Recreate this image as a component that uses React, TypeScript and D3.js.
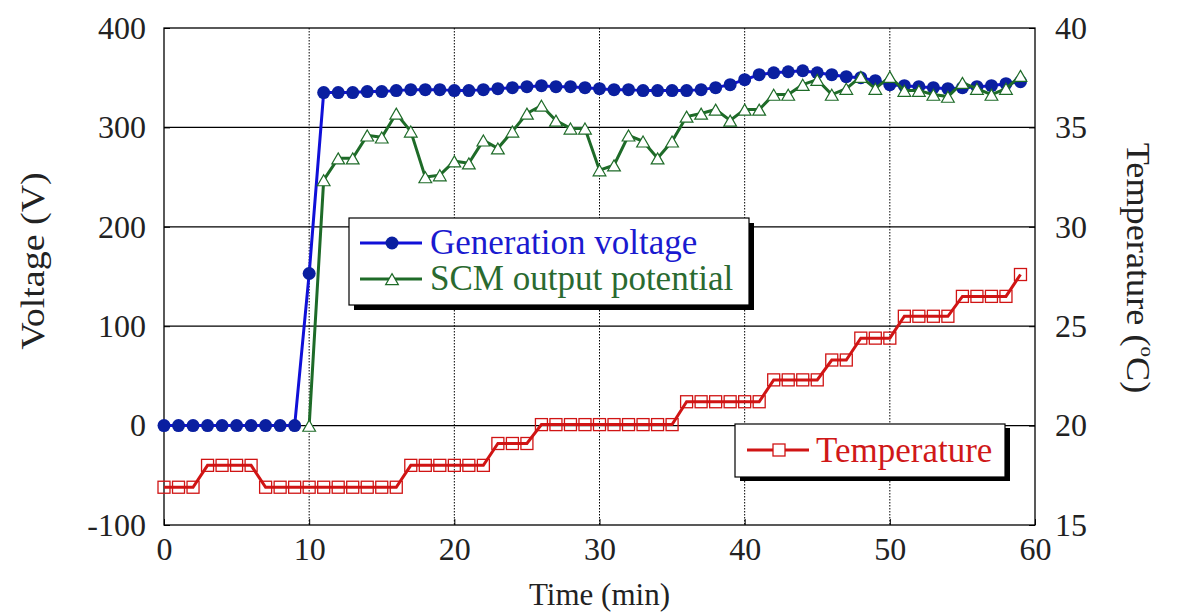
import React, { useEffect, useRef } from 'react';
import * as d3 from 'd3';

// ---- data ----
const minutes = d3.range(0, 60);

const generationVoltage = [
  0, 0, 0, 0, 0, 0, 0, 0, 0, 0,
  153, 335, 335, 335, 336, 336, 337, 338, 338, 338,
  337, 337, 338, 339, 340, 341, 342, 341, 341, 340,
  339, 338, 338, 337, 337, 337, 337, 338, 340, 343,
  348, 353, 355, 356, 357, 355, 353, 351, 350, 347,
  343, 342, 341, 340, 339, 340, 341, 342, 344, 346,
];

// SCM output starts at minute 10
const scmMinutes = d3.range(10, 60);
const scmOutput = [
  0, 247, 269, 269, 292, 290, 314, 296, 250, 252,
  266, 264, 287, 279, 296, 314, 322, 307, 299, 299,
  257, 262, 292, 286, 269, 286, 311, 314, 318, 307,
  318, 318, 333, 333, 343, 348, 333, 339, 351, 339,
  351, 337, 337, 333, 331, 345, 339, 333, 339, 352,
];

const temperature = [
  16.9, 16.9, 16.9, 18.0, 18.0, 18.0, 18.0, 16.9, 16.9, 16.9,
  16.9, 16.9, 16.9, 16.9, 16.9, 16.9, 16.9, 18.0, 18.0, 18.0,
  18.0, 18.0, 18.0, 19.1, 19.1, 19.1, 20.05, 20.05, 20.05, 20.05,
  20.05, 20.05, 20.05, 20.05, 20.05, 20.05, 21.2, 21.2, 21.2, 21.2,
  21.2, 21.2, 22.3, 22.3, 22.3, 22.3, 23.3, 23.3, 24.4, 24.4,
  24.4, 25.5, 25.5, 25.5, 25.5, 26.5, 26.5, 26.5, 26.5, 27.6,
];

const xTicks = [0, 10, 20, 30, 40, 50, 60];
const voltTicks = [-100, 0, 100, 200, 300, 400];
const tempTicks = [15, 20, 25, 30, 35, 40];

const BLUE = '#1010d8';
const BLUE_DOT = '#0a1fa0';
const GREEN = '#1e6b28';
const RED = '#d01414';
const FONT = '"Liberation Serif", "Times New Roman", serif';

const App = () => {
  const ref = useRef<SVGSVGElement>(null);

  useEffect(() => {
    const fullW = 1187;
    const fullH = 613;
    const left = 164, right = 1035, top = 28, bottom = 525;

    const svg = d3.select(ref.current);
    svg.selectAll('*').remove();
    svg.attr('width', fullW).attr('height', fullH).style('background', '#fff');

    const x = d3.scaleLinear().domain([0, 60]).range([left, right]);
    const y = d3.scaleLinear().domain([-100, 400]).range([bottom, top]);
    const yT = d3.scaleLinear().domain([15, 40]).range([bottom, top]);

    // horizontal grid lines
    svg.append('g')
      .selectAll('line')
      .data(voltTicks.slice(1, -1))
      .join('line')
      .attr('x1', left).attr('x2', right)
      .attr('y1', d => y(d)).attr('y2', d => y(d))
      .attr('stroke', '#000').attr('stroke-width', 1.2);

    // vertical dotted grid lines
    svg.append('g')
      .selectAll('line')
      .data(xTicks.slice(1, -1))
      .join('line')
      .attr('x1', d => x(d)).attr('x2', d => x(d))
      .attr('y1', top).attr('y2', bottom)
      .attr('stroke', '#000').attr('stroke-width', 1)
      .attr('stroke-dasharray', '1.5,1.5');

    // frame
    svg.append('rect')
      .attr('x', left).attr('y', top)
      .attr('width', right - left).attr('height', bottom - top)
      .attr('fill', 'none').attr('stroke', '#000').attr('stroke-width', 1.3);

    // axes
    const tickFont = (g: any) => {
      g.select('.domain').remove();
      g.selectAll('text')
        .attr('font-family', FONT)
        .attr('font-size', '32px')
        .attr('fill', '#222');
      g.selectAll('line').attr('stroke', '#000');
    };
    const fmt = (d: any) => String(d);

    svg.append('g')
      .attr('transform', `translate(0,${bottom})`)
      .call(d3.axisBottom(x).tickValues(xTicks).tickFormat(fmt).tickSize(-6).tickPadding(12))
      .call(tickFont);

    svg.append('g')
      .attr('transform', `translate(${left},0)`)
      .call(d3.axisLeft(y).tickValues(voltTicks).tickFormat(fmt).tickSize(-6).tickPadding(18))
      .call(tickFont);

    svg.append('g')
      .attr('transform', `translate(${right},0)`)
      .call(d3.axisRight(yT).tickValues(tempTicks).tickFormat(fmt).tickSize(-6).tickPadding(20))
      .call(tickFont);

    // axis titles
    svg.append('text')
      .attr('x', (left + right) / 2).attr('y', 605)
      .attr('text-anchor', 'middle')
      .attr('font-family', FONT).attr('font-size', '31px').attr('fill', '#222')
      .text('Time (min)');

    svg.append('text')
      .attr('transform', `translate(44,261) rotate(-90) scale(1.15,1)`)
      .attr('text-anchor', 'middle')
      .attr('font-family', FONT).attr('font-size', '33px').attr('fill', '#222')
      .text('Voltage (V)');

    const tTitle = svg.append('text')
      .attr('transform', `translate(1127,268) rotate(90) scale(1.1,1)`)
      .attr('text-anchor', 'middle')
      .attr('font-family', FONT).attr('font-size', '33px').attr('fill', '#222');
    tTitle.append('tspan').text('Temperature  (');
    tTitle.append('tspan').attr('dy', -14).attr('font-size', '19px').text('o');
    tTitle.append('tspan').attr('dy', 14).text('C)');

    // series
    const line = d3.line<[number, number]>().x(d => d[0]).y(d => d[1]);

    const tempPts: [number, number][] = minutes.map((m, i) => [x(m), yT(temperature[i])]);
    const scmPts: [number, number][] = scmMinutes.map((m, i) => [x(m), y(scmOutput[i])]);
    const genPts: [number, number][] = minutes.map((m, i) => [x(m), y(generationVoltage[i])]);

    // temperature
    svg.append('path').attr('d', line(tempPts))
      .attr('fill', 'none').attr('stroke', RED).attr('stroke-width', 3);
    svg.append('g').selectAll('rect').data(tempPts).join('rect')
      .attr('x', d => d[0] - 6).attr('y', d => d[1] - 6)
      .attr('width', 12).attr('height', 12)
      .attr('fill', 'none').attr('stroke', RED).attr('stroke-width', 1.3);

    // generation voltage
    svg.append('path').attr('d', line(genPts))
      .attr('fill', 'none').attr('stroke', BLUE).attr('stroke-width', 3);
    svg.append('g').selectAll('circle').data(genPts).join('circle')
      .attr('cx', d => d[0]).attr('cy', d => d[1]).attr('r', 6.5)
      .attr('fill', BLUE_DOT);

    // SCM output potential
    const tri = d3.symbol().type(d3.symbolTriangle).size(70);
    svg.append('path').attr('d', line(scmPts))
      .attr('fill', 'none').attr('stroke', GREEN).attr('stroke-width', 3);
    svg.append('g').selectAll('path').data(scmPts).join('path')
      .attr('d', tri())
      .attr('transform', d => `translate(${d[0]},${d[1] + 2})`)
      .attr('fill', '#fff').attr('stroke', GREEN).attr('stroke-width', 1.2);

    // legend 1
    const lg1 = svg.append('g');
    lg1.append('rect').attr('x', 354).attr('y', 223).attr('width', 400).attr('height', 87).attr('fill', '#000');
    lg1.append('rect').attr('x', 349).attr('y', 218).attr('width', 400).attr('height', 87)
      .attr('fill', '#fff').attr('stroke', '#000').attr('stroke-width', 1.2);
    lg1.append('line').attr('x1', 360).attr('x2', 422).attr('y1', 243).attr('y2', 243)
      .attr('stroke', BLUE).attr('stroke-width', 3);
    lg1.append('circle').attr('cx', 392).attr('cy', 243).attr('r', 6.5).attr('fill', BLUE_DOT);
    lg1.append('text').attr('x', 430).attr('y', 254)
      .attr('font-family', FONT).attr('font-size', '35px').attr('fill', '#1a1ad0')
      .text('Generation voltage');
    lg1.append('line').attr('x1', 360).attr('x2', 422).attr('y1', 279).attr('y2', 279)
      .attr('stroke', GREEN).attr('stroke-width', 3);
    lg1.append('path').attr('d', tri()).attr('transform', 'translate(392,281)')
      .attr('fill', '#fff').attr('stroke', GREEN).attr('stroke-width', 1.2);
    lg1.append('text').attr('x', 430).attr('y', 290)
      .attr('font-family', FONT).attr('font-size', '35px').attr('fill', '#2a6a30')
      .text('SCM output potential');

    // legend 2
    const lg2 = svg.append('g');
    lg2.append('rect').attr('x', 740).attr('y', 428).attr('width', 270).attr('height', 53).attr('fill', '#000');
    lg2.append('rect').attr('x', 735).attr('y', 424).attr('width', 270).attr('height', 53)
      .attr('fill', '#fff').attr('stroke', '#000').attr('stroke-width', 1.2);
    lg2.append('line').attr('x1', 747).attr('x2', 809).attr('y1', 450).attr('y2', 450)
      .attr('stroke', RED).attr('stroke-width', 3);
    lg2.append('rect').attr('x', 773).attr('y', 444).attr('width', 12).attr('height', 12)
      .attr('fill', '#fff').attr('stroke', RED).attr('stroke-width', 1.3);
    lg2.append('text').attr('x', 816).attr('y', 462)
      .attr('font-family', FONT).attr('font-size', '35px').attr('fill', '#d01818')
      .text('Temperature');
  }, []);

  return (
    <svg ref={ref} style={{ position: 'absolute', left: 0, top: 0, display: 'block' }} />
  );
};

export default App;
